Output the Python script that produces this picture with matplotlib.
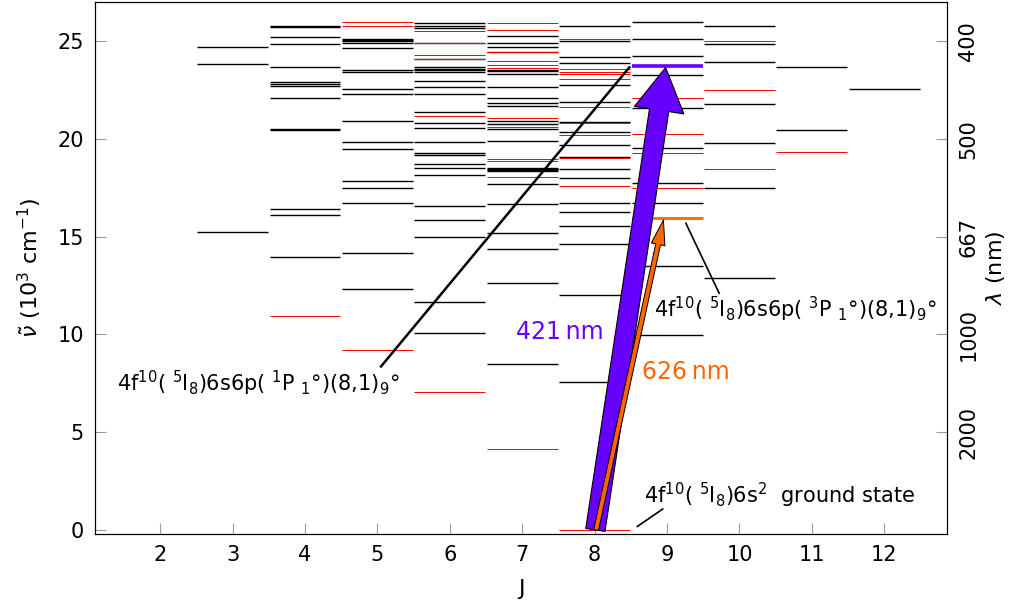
import matplotlib
matplotlib.use('Agg')
import matplotlib.pyplot as plt
import matplotlib.patches as mpatches

# energy levels (10^3 cm^-1), odd parity drawn black, even parity drawn red
odd_levels = {
    3: [15.25, 23.83, 24.67],
    4: [13.96, 16.08, 16.42, 20.43, 20.48, 22.10, 22.70, 22.80, 22.92, 23.69,
        24.86, 25.22, 25.70, 25.76],
    5: [12.30, 14.15, 16.69, 17.50, 17.82, 19.50, 19.83, 20.92, 22.30, 22.54,
        23.43, 23.53, 24.63, 24.87, 24.98, 25.06, 25.12],
    6: [10.09, 11.67, 14.97, 15.86, 16.57, 18.15, 18.52, 18.71, 19.18, 19.28,
        19.85, 20.54, 20.80, 21.39, 22.27, 22.63, 22.97, 23.43, 23.50, 23.56,
        23.69, 24.08, 24.90, 25.67, 25.77, 25.92],
    7: [8.50, 12.64, 14.37, 15.19, 16.68, 17.69, 18.33, 18.40, 18.47, 18.53,
        19.89, 20.49, 20.76, 20.91, 21.69, 21.83, 22.07, 22.66, 23.31, 23.45,
        23.52, 24.42, 24.71, 24.91, 25.27],
    8: [7.56, 12.01, 14.60, 15.56, 16.27, 16.73, 18.01, 18.46, 19.09, 19.68,
        20.36, 20.88, 21.90, 22.75, 23.86, 24.20, 25.00, 25.77],
    9: [9.98, 13.50, 16.73, 17.72, 19.55, 21.56, 23.28, 24.23, 25.09, 25.99],
    10: [12.90, 17.50, 19.80, 21.80, 23.94, 24.86, 25.77],
    11: [20.45, 23.69],
    12: [22.55],
}
even_levels = {
    4: [10.93],
    5: [9.21, 25.75, 25.98],
    6: [7.05, 21.17, 24.07, 24.30, 24.87, 25.53],
    7: [4.13, 18.06, 18.87, 18.95, 20.59, 21.08, 23.64, 23.77, 23.98, 24.45,
        25.56, 25.90],
    8: [0.0, 17.60, 19.00, 20.19, 20.81, 21.61, 23.04, 23.30, 23.40, 23.55, 25.09],
    9: [17.50, 19.26, 20.23, 22.07],
    10: [18.46, 22.48, 25.00],
    11: [19.34],
}

# the two excited states of the cooling transitions (J=9)
level_421 = 23.74
level_626 = 15.97
J_upper = 9
J_ground = 8

j_ticks = list(range(2, 13))
y_ticks = [0, 5, 10, 15, 20, 25]
wl_ticks = [400, 500, 667, 1000, 2000]   # nm

purple = '#6600ff'
orange = '#ff6600'

fig = plt.figure(figsize=(10.33, 6.06), dpi=100)
ax = fig.add_axes([0.092, 0.119, 0.825, 0.878])

for J, vals in odd_levels.items():
    ax.hlines(vals, J - 0.49, J + 0.49, color='black', lw=1.0, zorder=1)
for J, vals in even_levels.items():
    ax.hlines(vals, J - 0.49, J + 0.49, color='red', lw=0.7, zorder=1)

ax.hlines(level_421, J_upper - 0.49, J_upper + 0.49, color=purple, lw=2.6, zorder=2)
ax.hlines(level_626, J_upper - 0.49, J_upper + 0.49, color=orange, lw=2.0, zorder=2)

# transition arrows
blue_arrow = mpatches.FancyArrowPatch(
    (J_ground + 0.01, 0), (J_upper - 0.02, level_421 - 0.1),
    arrowstyle=mpatches.ArrowStyle('Simple', head_length=31, head_width=36, tail_width=14),
    mutation_scale=1, facecolor=purple, edgecolor='black', lw=0.8,
    shrinkA=0, shrinkB=0, zorder=3)
ax.add_patch(blue_arrow)
red_arrow = mpatches.FancyArrowPatch(
    (J_ground + 0.02, 0), (J_upper - 0.05, level_626 - 0.12),
    arrowstyle=mpatches.ArrowStyle('Simple', head_length=18, head_width=10, tail_width=3.5),
    mutation_scale=1, facecolor=orange, edgecolor='black', lw=0.7,
    shrinkA=0, shrinkB=0, zorder=4)
ax.add_patch(red_arrow)

ax.text(6.91, 10.14, '421\u2009nm', color=purple, fontsize=17, ha='left', va='center')
ax.text(8.65, 8.1, '626\u2009nm', color=orange, fontsize=17, ha='left', va='center')

# state labels with leader lines
lab_fs = 15
ax.plot([5.05, 8.48], [8.36, 23.65], color='black', lw=1.8, zorder=2)
ax.text(5.31, 7.5, r'4f$^{10}$( $^5$I$_8$)6s6p( $^1$P $_1$°)(8,1)$_9$°',
        fontsize=lab_fs, ha='right', va='center')
ax.plot([9.26, 9.72], [15.68, 12.1], color='black', lw=1.2, zorder=2)
ax.text(8.82, 11.27, r'4f$^{10}$( $^5$I$_8$)6s6p( $^3$P $_1$°)(8,1)$_9$°',
        fontsize=lab_fs, ha='left', va='center')
ax.plot([8.59, 8.94], [0.18, 1.07], color='black', lw=1.2, zorder=2)
ax.text(8.68, 1.75, r'4f$^{10}$( $^5$I$_8$)6s$^2$  ground state',
        fontsize=lab_fs, ha='left', va='center')

ax.set_xlim(1.1, 12.87)
ax.set_ylim(-0.2, 27)
ax.set_xticks(j_ticks)
ax.set_yticks(y_ticks)
ax.tick_params(direction='in', length=8, color='#999999', labelsize=15, pad=8)
ax.set_xlabel('J', fontsize=16, labelpad=10)
ax.set_ylabel(r'$\tilde{\nu}$ (10$^3$ cm$^{-1}$)', fontsize=16, labelpad=10)

ax2 = ax.twinx()
ax2.set_ylim(ax.get_ylim())
ax2.set_yticks([1e4 / w for w in wl_ticks])
ax2.set_yticklabels([str(w) for w in wl_ticks], rotation=90, va='center')
ax2.tick_params(direction='in', length=8, color='#999999', labelsize=15, pad=8)
ax2.set_ylabel(r'$\lambda$ (nm)', fontsize=16)

plt.savefig('out.png', dpi=100, facecolor='white')
plt.close()
